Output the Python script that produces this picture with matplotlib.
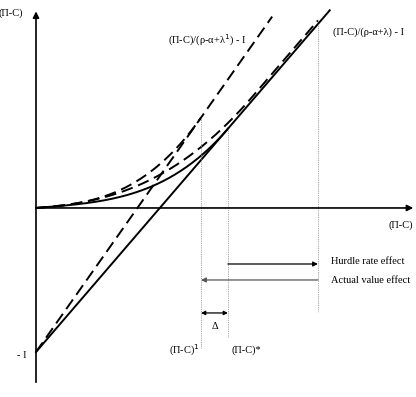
import numpy as np
from matplotlib import pyplot as plt

plt.rcParams['font.family'] = ['Liberation Serif', 'DejaVu Serif']

# investment cost (the "- I" intercept)
invest_cost = 1.0
# slopes of the two NPV lines: 1/(rho-alpha+lambda) and 1/(rho-alpha+lambda^1)
npv_slopes = [1.163, 1.42]
# trigger values: (Pi-C)*, (Pi-C)^1, and the shifted hurdle
trigger_star = 1.333
trigger_one = 1.146
trigger_hurdle = 1.958
# the hurdle-rate curve joins (just above) the solid line here
hurdle_join = 1.5
hurdle_gap = 0.025
# initial rise of the option value curves near the origin
start_slope = 0.08
# right ends of the two NPV lines
line_ends = [2.04, 1.64]

labels_top = ["(Π-C)/(ρ-α+λ) - I", "(Π-C)/(ρ-α+λ$^{1}$) - I"]
effect_labels = ["Hurdle rate effect", "Actual value effect"]


def option_curve(slope, intercept, trigger, n=200):
    # F(V) = b V + A V^beta, value-matched and smooth-pasted to slope*V - intercept
    b = start_slope
    npv = slope * trigger - intercept - b * trigger
    beta = (slope - b) * trigger / npv
    a = npv / trigger ** beta
    xs = np.linspace(0, trigger, n)
    return xs, b * xs + a * xs ** beta


fig = plt.figure(figsize=(4.16, 3.97), dpi=100)
ax = fig.add_axes([0, 0, 1, 1])
ax.set_xlim(-0.25, 2.639)
ax.set_ylim(-1.3125, 1.444)
ax.axis('off')

lw = 1.4
dash = (6, 3)

# axes with arrows
ax.annotate("", xy=(2.62, 0), xytext=(0, 0),
            arrowprops=dict(arrowstyle='-|>', color='black', lw=1.2,
                            mutation_scale=9, shrinkA=0, shrinkB=0))
ax.annotate("", xy=(0, 1.365), xytext=(0, -1.21),
            arrowprops=dict(arrowstyle='-|>', color='black', lw=1.2,
                            mutation_scale=9, shrinkA=0, shrinkB=0))

# NPV lines
xs = np.array([0, line_ends[0]])
ax.plot(xs, npv_slopes[0] * xs - invest_cost, color='black', lw=lw)
xs = np.array([0, line_ends[1]])
ax.plot(xs, npv_slopes[1] * xs - invest_cost, color='black', lw=lw,
        dashes=dash)

# option value curves
cx, cy = option_curve(npv_slopes[0], invest_cost, trigger_star)
ax.plot(cx, cy, color='black', lw=lw)
cx, cy = option_curve(npv_slopes[1], invest_cost, trigger_one)
ax.plot(cx, cy, color='black', lw=lw, dashes=dash)
cx, cy = option_curve(npv_slopes[0], invest_cost - hurdle_gap, hurdle_join)
cx = np.append(cx, trigger_hurdle)
cy = np.append(cy, npv_slopes[0] * trigger_hurdle - invest_cost + hurdle_gap)
ax.plot(cx, cy, color='black', lw=lw, dashes=dash)

# dotted verticals at the triggers
dot = dict(color='#888888', lw=0.6, ls=(0, (1, 1.2)))
ax.plot([trigger_one, trigger_one],
        [npv_slopes[1] * trigger_one - invest_cost, -0.97], **dot)
ax.plot([trigger_star, trigger_star],
        [npv_slopes[0] * trigger_star - invest_cost, -0.90], **dot)
ax.plot([trigger_hurdle, trigger_hurdle],
        [npv_slopes[0] * trigger_hurdle - invest_cost, -0.72], **dot)

# effect arrows
arr = dict(arrowstyle='-|>', lw=0.9, mutation_scale=7, shrinkA=0, shrinkB=0)
ax.annotate("", xy=(trigger_hurdle, -0.389), xytext=(trigger_star, -0.389),
            arrowprops=dict(color='black', **arr))
ax.annotate("", xy=(trigger_one, -0.5), xytext=(trigger_hurdle, -0.5),
            arrowprops=dict(color='#555555', **arr))
ax.annotate("", xy=(trigger_star, -0.729), xytext=(trigger_one, -0.729),
            arrowprops=dict(arrowstyle='<|-|>', color='black', lw=0.9,
                            mutation_scale=6, shrinkA=0, shrinkB=0))

fs = 7.5
ax.text(-0.262, 1.354, "(Π-C)", fontsize=fs, ha='left', va='center')
ax.text(2.618, -0.118, "(Π-C)", fontsize=fs, ha='right', va='center')
ax.text(-0.069, -1.021, "- I", fontsize=fs, ha='right', va='center')
ax.text(2.0625, 1.222, labels_top[0], fontsize=fs, ha='left', va='center')
ax.text(0.917, 1.167, labels_top[1], fontsize=fs, ha='left', va='center')
ax.text(2.049, -0.375, effect_labels[0], fontsize=fs, ha='left', va='center')
ax.text(2.049, -0.507, effect_labels[1], fontsize=fs, ha='left', va='center')
ax.text((trigger_one + trigger_star) / 2, -0.826, "Δ", fontsize=fs,
        ha='center', va='center')
ax.text(1.139, -0.986, "(Π-C)$^{1}$", fontsize=fs, ha='right', va='center')
ax.text(1.361, -0.986, "(Π-C)*", fontsize=fs, ha='left', va='center')

fig.savefig("out.png", dpi=100)
